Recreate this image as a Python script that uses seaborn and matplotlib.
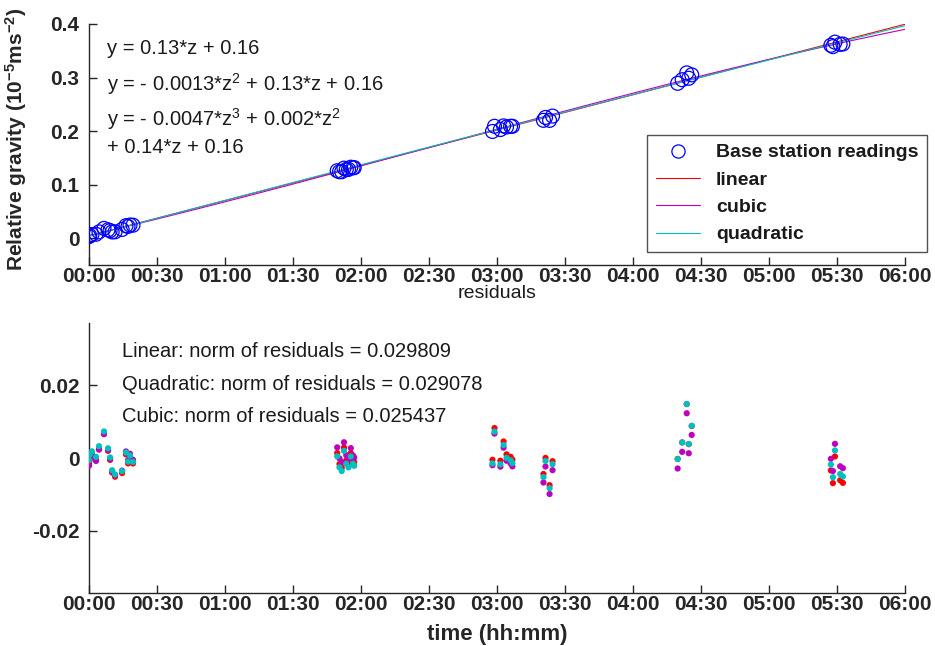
import numpy as np
import pandas as pd
import matplotlib
matplotlib.use("Agg")
import matplotlib.pyplot as plt
from matplotlib.ticker import FuncFormatter, FixedLocator
from matplotlib.lines import Line2D
import seaborn as sns

# ---------------- data ----------------
# time of each base-station reading (minutes after 00:00)
time_min = [0.0, 0.3, 1.3, 3.1, 4.4, 6.6, 8.4, 9.3, 10.2, 11.5, 14.6, 16.3, 17.2, 18.1, 19.4,
            109.5, 110.5, 111.5, 112.5, 113.5, 114.5, 115.5, 116.5, 117.0,
            178.0, 178.9, 181.5, 182.9, 184.2, 186.0, 186.8,
            200.5, 201.4, 203.2, 204.5,
            259.7, 261.7, 263.7, 264.6, 265.9,
            327.3, 328.2, 329.1, 331.4, 332.6]
# relative gravity readings (10^-5 m s^-2)
gravity = [0.0030, 0.0048, 0.0069, 0.0074, 0.0118, 0.0183, 0.0157, 0.0142, 0.0117, 0.0120,
           0.0164, 0.0234, 0.0219, 0.0246, 0.0243,
           0.1260, 0.1241, 0.1242, 0.1308, 0.1284, 0.1285, 0.1326, 0.1317, 0.1317,
           0.1993, 0.2090, 0.2029, 0.2097, 0.2076, 0.2089, 0.2090,
           0.2201, 0.2255, 0.2200, 0.2280,
           0.2892, 0.2959, 0.3086, 0.2986, 0.3050,
           0.3602, 0.3577, 0.3660, 0.3620, 0.3626]

equations = ["y = 0.13*z + 0.16",
             "y = - 0.0013*z$^2$ + 0.13*z + 0.16",
             "y = - 0.0047*z$^3$ + 0.002*z$^2$",
             "+ 0.14*z + 0.16"]
norm_texts = ["Linear: norm of residuals = 0.029809",
              "Quadratic: norm of residuals = 0.029078",
              "Cubic: norm of residuals = 0.025437"]
x_ticks = [0, 30, 60, 90, 120, 150, 180, 210, 240, 270, 300, 330, 360]
top_yticks = [0, 0.1, 0.2, 0.3, 0.4]
bot_yticks = [-0.02, 0, 0.02]

# ---------------- fits ----------------
t = np.array(time_min)
g = np.array(gravity)
fits = {"linear": 1, "cubic": 3, "quadratic": 2}
colors = {"linear": "#ff0000", "cubic": "#bf00bf", "quadratic": "#00bfbf"}
t_line = np.linspace(0, 360, 400)
line_rows = []
res_rows = []
for name, deg in fits.items():
    p = np.polyfit(t, g, deg)
    for tv, yv in zip(t_line, np.polyval(p, t_line)):
        line_rows.append((name, tv, yv))
    for tv, rv in zip(t, g - np.polyval(p, t)):
        res_rows.append((name, tv, rv))
lines_df = pd.DataFrame(line_rows, columns=["fit", "t", "y"])
res_df = pd.DataFrame(res_rows, columns=["fit", "t", "r"])
pts_df = pd.DataFrame({"t": t, "g": g})

# ---------------- style ----------------
sns.set_theme(style="white")
plt.rcParams["font.family"] = ["Liberation Sans", "DejaVu Sans"]
plt.rcParams["mathtext.fontset"] = "custom"
plt.rcParams["mathtext.rm"] = "Liberation Sans"
plt.rcParams["mathtext.bf"] = "Liberation Sans:bold"
plt.rcParams["mathtext.it"] = "Liberation Sans:italic"
axcol = "#262626"
txtcol = "#1a1a1a"

fig = plt.figure(figsize=(9.35, 6.46), dpi=100)
ax1 = fig.add_axes([0.0952, 0.5898, 0.8727, 0.3731])
ax2 = fig.add_axes([0.0952, 0.082, 0.8727, 0.418])

# top: readings + fits
sns.scatterplot(data=pts_df, x="t", y="g", ax=ax1, marker="o", s=100,
                facecolor="none", edgecolor="#0000ff", linewidth=0.9, zorder=3, legend=False)
for name in fits:
    sub = lines_df[lines_df.fit == name]
    sns.lineplot(data=sub, x="t", y="y", ax=ax1, color=colors[name], linewidth=0.8,
                 zorder=2, legend=False)

# bottom: residuals
for name in ["linear", "cubic", "quadratic"]:
    sub = res_df[res_df.fit == name]
    sns.scatterplot(data=sub, x="t", y="r", ax=ax2, color=colors[name], s=20,
                    edgecolor="none", legend=False, zorder=3)

for ax in (ax1, ax2):
    ax.set_xlim(0, 360)
    ax.xaxis.set_major_locator(FixedLocator(x_ticks))
    ax.xaxis.set_major_formatter(FuncFormatter(lambda v, p: f"{int(v // 60):02d}:{int(round(v % 60)):02d}"))
    for s in ("top", "right"):
        ax.spines[s].set_visible(False)
    for s in ("left", "bottom"):
        ax.spines[s].set_color(axcol)
        ax.spines[s].set_linewidth(1.0)
    ax.tick_params(axis="both", direction="in", length=6, width=1.0, colors=axcol,
                   labelsize=15, left=True, bottom=True)
    ax.tick_params(axis="x", pad=1.5)
    ax.tick_params(axis="y", pad=7)
    ax.set_xlabel("")
    ax.set_ylabel("")

ax1.set_ylim(-0.05, 0.4)
ax1.set_yticks(top_yticks)
ax1.set_yticklabels(["0", "0.1", "0.2", "0.3", "0.4"])
ax1.set_ylabel(r"Relative gravity (10$^{\mathbf{-5}}$ms$^{\mathbf{-2}}$)", fontsize=15,
               fontweight="bold", color=axcol)
ax1.yaxis.set_label_coords(-0.074, 0.52)

ax2.set_ylim(-0.037, 0.037)
ax2.set_yticks(bot_yticks)
ax2.set_yticklabels(["-0.02", "0", "0.02"])
ax2.set_xlabel("time (hh:mm)", fontsize=16, fontweight="bold", color=axcol, labelpad=7)

for ax in (ax1, ax2):
    for lab in ax.get_xticklabels() + ax.get_yticklabels():
        lab.set_fontweight("bold")

# equations
eq_y = [0.90, 0.75, 0.605, 0.488]
for txt, yy in zip(equations, eq_y):
    ax1.text(0.022, yy, txt, transform=ax1.transAxes, fontsize=14.5, va="center", ha="left",
             color=txtcol)

for txt, yy in zip(norm_texts, [0.896, 0.774, 0.652]):
    ax2.text(0.040, yy, txt, transform=ax2.transAxes, fontsize=14.5, va="center", ha="left",
             color=txtcol)

fig.text(497 / 935, 1 - 293 / 646, "residuals", ha="center", va="center", fontsize=14,
         color=txtcol)

handles = [Line2D([], [], marker="o", ls="none", mfc="none", mec="#0000ff", ms=9.5, mew=0.9),
           Line2D([], [], color=colors["linear"], lw=0.8),
           Line2D([], [], color=colors["cubic"], lw=0.8),
           Line2D([], [], color=colors["quadratic"], lw=0.8)]
leg = ax1.legend(handles, ["Base station readings", "linear", "cubic", "quadratic"],
                 loc="upper left", bbox_to_anchor=(647 / 935, 1 - 135 / 646),
                 bbox_transform=fig.transFigure, borderaxespad=0.0, frameon=True,
                 fancybox=False, edgecolor=axcol, prop={"weight": "bold", "size": 14},
                 handlelength=2.3, borderpad=0.45, labelspacing=0.5, handletextpad=0.8)
leg.get_frame().set_linewidth(1.0)
for txt in leg.get_texts():
    txt.set_color(txtcol)

fig.savefig("out.png", dpi=100)
